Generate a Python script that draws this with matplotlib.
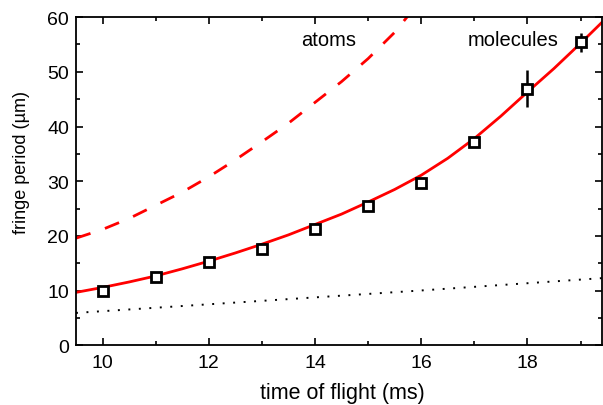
import matplotlib
matplotlib.use('Agg')
import matplotlib.pyplot as plt
from matplotlib.ticker import MultipleLocator

plt.rcParams['font.family'] = ['Liberation Sans', 'DejaVu Sans']

# measured fringe periods
tof = [10, 11, 12, 13, 14, 15, 16, 17, 18, 19]
period = [10.0, 12.5, 15.2, 17.6, 21.2, 25.5, 29.6, 37.1, 46.9, 55.4]
period_err = [0, 0, 0, 0, 0, 0, 0, 0, 3.4, 1.7]

# fit curve for molecules
fit_t = [9.5, 10, 10.5, 11, 11.5, 12, 12.5, 13, 13.5, 14, 14.5, 15, 15.5,
         16, 16.5, 17, 17.5, 18, 18.5, 19, 19.4]
fit_mol = [9.7, 10.6, 11.6, 12.7, 14.0, 15.4, 16.9, 18.5, 20.2, 22.1, 24.0,
           26.2, 28.5, 31.1, 34.2, 37.8, 41.9, 46.3, 50.6, 55.2, 59.0]

# expected curve for atoms
atom_t = [9.5, 10, 10.5, 11, 11.5, 12, 12.5, 13, 13.5, 14, 14.5, 15, 15.5, 15.8]
atom_p = [19.6, 21.2, 23.2, 25.6, 28.0, 30.8, 33.9, 37.2, 40.6, 44.4, 48.2,
          52.4, 57.2, 60.8]

# dotted reference line
ref_t = [9.5, 12.6, 16.0, 19.4]
ref_p = [5.95, 7.9, 10.05, 12.3]

fig = plt.figure(figsize=(6.03, 4.06), dpi=100)
ax = fig.add_axes([0.126, 0.1466, 0.872, 0.809])

ax.plot(ref_t, ref_p, color='black', lw=1.4, linestyle=(0, (1, 4.4)))
ax.plot(atom_t, atom_p, color='red', lw=2, linestyle=(0, (5.5, 5.5)))
ax.plot(fit_t, fit_mol, color='red', lw=2)
ax.errorbar(tof, period, yerr=period_err, fmt='s', color='black', ms=7,
            mfc='white', mec='black', mew=2, elinewidth=1.8, capsize=0, zorder=5)

ax.text(13.73, 54.8, 'atoms', fontsize=14.5)
ax.text(16.87, 54.8, 'molecules', fontsize=14.5)

ax.set_xlim(9.5, 19.4)
ax.set_ylim(0, 60)
ax.xaxis.set_major_locator(MultipleLocator(2))
ax.xaxis.set_minor_locator(MultipleLocator(1))
ax.yaxis.set_major_locator(MultipleLocator(10))
ax.yaxis.set_minor_locator(MultipleLocator(5))
ax.tick_params(which='both', direction='in', top=True, right=True, width=1.2,
               labelsize=14)
ax.tick_params(which='major', length=5)
ax.tick_params(which='minor', length=3)
ax.tick_params(axis='x', pad=6)
ax.tick_params(axis='y', pad=5)
for s in ax.spines.values():
    s.set_linewidth(1.3)

fig.text(342 / 603, 1 - 399 / 406, 'time of flight (ms)', fontsize=15.5,
         ha='center', va='baseline')
fig.text(22 / 603, 1 - 162 / 406, 'fringe period (µm)', fontsize=13,
         ha='center', va='center', rotation=90)

fig.savefig('out.png', dpi=100)
